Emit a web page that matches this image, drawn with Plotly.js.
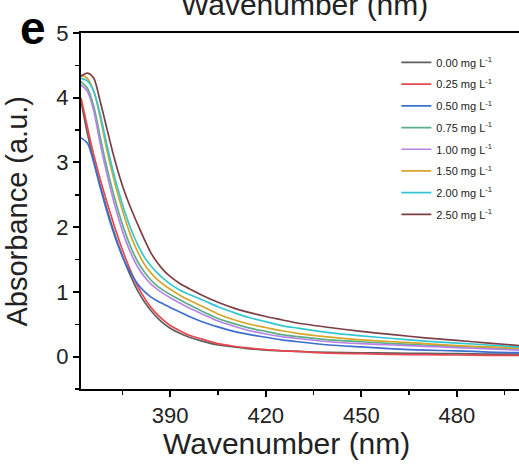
<!DOCTYPE html>
<html>
<head>
<meta charset="utf-8">
<script src="https://cdn.plot.ly/plotly-3.0.1.min.js"></script>
<style>html,body{margin:0;padding:0;background:#fff;}#chart{width:519px;height:467px;}</style>
</head>
<body>
<div id="chart"></div>
<script>
// Wavelength grid (nm)
const wavelength = [362,364,366,368,370,372,374,376,378,380,382,384,386,388,390,393,396,400,405,410,415,420,425,430,440,450,460,470,480,490,500];

// Absorbance series
const abs000 = [3.95,3.45,3.02,2.65,2.30,1.98,1.69,1.43,1.20,1.00,0.84,0.71,0.60,0.51,0.44,0.36,0.30,0.24,0.18,0.15,0.12,0.10,0.09,0.08,0.065,0.06,0.055,0.05,0.045,0.04,0.04];
const abs025 = [4.00,3.55,3.12,2.75,2.41,2.09,1.79,1.52,1.28,1.07,0.90,0.76,0.65,0.56,0.48,0.40,0.33,0.27,0.20,0.16,0.13,0.11,0.09,0.08,0.055,0.045,0.035,0.03,0.025,0.02,0.02];
const abs050 = [3.38,3.30,3.00,2.62,2.27,1.95,1.67,1.44,1.26,1.11,1.00,0.92,0.86,0.81,0.76,0.69,0.62,0.54,0.46,0.39,0.34,0.30,0.26,0.23,0.18,0.15,0.12,0.10,0.09,0.07,0.06];
const abs075 = [4.25,4.15,3.87,3.40,2.95,2.55,2.20,1.90,1.65,1.45,1.30,1.18,1.09,1.02,0.96,0.88,0.80,0.70,0.59,0.51,0.44,0.39,0.34,0.31,0.26,0.23,0.20,0.18,0.16,0.14,0.12];
const abs100 = [4.20,4.10,3.80,3.30,2.85,2.45,2.10,1.80,1.56,1.37,1.23,1.12,1.04,0.97,0.91,0.83,0.75,0.66,0.55,0.47,0.40,0.35,0.31,0.28,0.23,0.20,0.18,0.16,0.14,0.12,0.10];
const abs150 = [4.35,4.30,4.10,3.70,3.22,2.80,2.43,2.10,1.82,1.60,1.42,1.29,1.19,1.11,1.04,0.95,0.87,0.78,0.66,0.57,0.50,0.45,0.40,0.36,0.30,0.26,0.23,0.20,0.17,0.15,0.13];
const abs200 = [4.30,4.26,4.10,3.75,3.30,2.88,2.52,2.20,1.93,1.71,1.53,1.40,1.29,1.20,1.12,1.03,0.96,0.88,0.77,0.68,0.60,0.54,0.48,0.44,0.37,0.32,0.28,0.24,0.21,0.18,0.15];
const abs250 = [4.33,4.38,4.30,3.95,3.55,3.15,2.80,2.50,2.25,2.02,1.80,1.60,1.45,1.33,1.24,1.13,1.05,0.95,0.84,0.75,0.68,0.62,0.57,0.52,0.45,0.39,0.34,0.29,0.25,0.21,0.17];

const seriesNames = ["0.00 mg L<sup>-1</sup>","0.25 mg L<sup>-1</sup>","0.50 mg L<sup>-1</sup>","0.75 mg L<sup>-1</sup>","1.00 mg L<sup>-1</sup>","1.50 mg L<sup>-1</sup>","2.00 mg L<sup>-1</sup>","2.50 mg L<sup>-1</sup>"];
const seriesValues = [abs000,abs025,abs050,abs075,abs100,abs150,abs200,abs250];
const seriesColors = ["#5e5e5e","#e8474f","#3c6fd0","#5aaf86","#b784e6","#d6a62a","#33c6d3","#7d3f45"];

const traces = seriesValues.map((v,i)=>({
  type:"scatter", mode:"lines", x:wavelength, y:v, name:seriesNames[i],
  legendgroup:"g"+i,
  line:{color:seriesColors[i], width:1.7, shape:"spline", smoothing:0.8}
}));

const FONT = "Liberation Sans, Arial, sans-serif";
const layout = {
  width:519, height:467,
  margin:{l:81, r:0, t:33, b:78},
  paper_bgcolor:"#fff", plot_bgcolor:"#fff",
  showlegend:true,
  legend:{x:0.72, y:0.958, xanchor:"left", yanchor:"top", font:{family:FONT, size:11, color:"#222"},
          bgcolor:"rgba(0,0,0,0)", tracegroupgap:2.7, itemwidth:30},
  xaxis:{range:[362,499.5], tick0:0, dtick:30, ticks:"outside", ticklen:6, tickwidth:2, tickcolor:"#000",
         showline:true, linewidth:2, linecolor:"#000", mirror:true, showgrid:false, zeroline:false,
         tickfont:{family:FONT, size:22, color:"#222"},
         minor:{dtick:15, ticks:"outside", ticklen:4, tickwidth:1.5, tickcolor:"#000", showgrid:false}},
  yaxis:{range:[-0.5,5], tick0:0, dtick:1, ticks:"outside", ticklen:6, tickwidth:2, tickcolor:"#000",
         showline:true, linewidth:2, linecolor:"#000", mirror:false, showgrid:false, zeroline:false,
         tickfont:{family:FONT, size:22, color:"#222"},
         minor:{dtick:0.5, ticks:"outside", ticklen:4, tickwidth:1.5, tickcolor:"#000", showgrid:false}},
  annotations:[
    {text:"Wavenumber (nm)", xref:"paper", yref:"paper", x:0.47, y:0, xanchor:"center", yanchor:"top", yshift:-36,
     showarrow:false, font:{family:FONT, size:30, color:"#222"}},
    {text:"Wavenumber (nm)", xref:"paper", yref:"paper", x:0.51, y:1, xanchor:"center", yanchor:"bottom", yshift:10,
     showarrow:false, font:{family:FONT, size:30, color:"#222"}},
    {text:"Absorbance (a.u.)", xref:"paper", yref:"paper", x:-0.145, y:0.5, xanchor:"center", yanchor:"middle", textangle:-90,
     showarrow:false, font:{family:FONT, size:29, color:"#222"}},
    {text:"<b>e</b>", xref:"paper", yref:"paper", x:-0.11, y:1.0927, xanchor:"center", yanchor:"top",
     showarrow:false, font:{family:FONT, size:46, color:"#000"}}
  ]
};

Plotly.newPlot("chart", traces, layout, {staticPlot:true, displayModeBar:false});
</script>
</body>
</html>
